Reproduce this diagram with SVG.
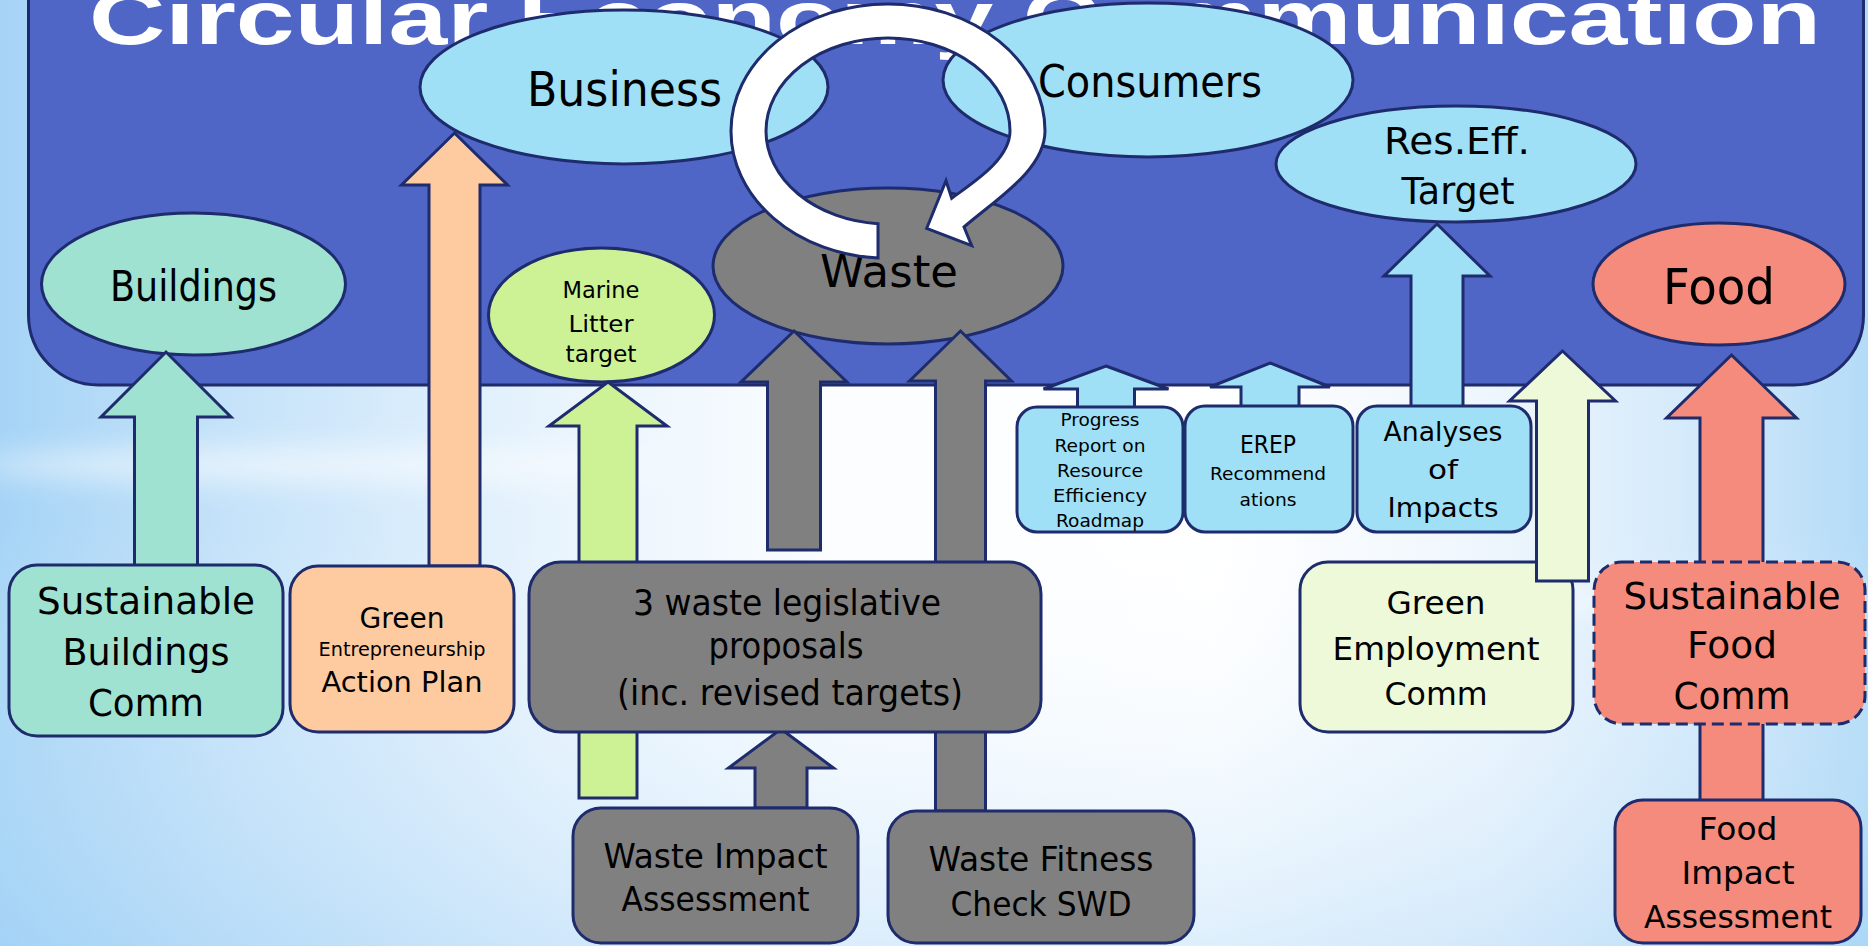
<svg xmlns="http://www.w3.org/2000/svg" width="1868" height="946" viewBox="0 0 1868 946">
  <defs>
    <linearGradient id="sky" x1="0" y1="0" x2="1" y2="0">
      <stop offset="0" stop-color="#a6d4f6"/>
      <stop offset="0.12" stop-color="#c4e2f9"/>
      <stop offset="0.3" stop-color="#e9f4fd"/>
      <stop offset="0.45" stop-color="#fbfdff"/>
      <stop offset="0.65" stop-color="#ffffff"/>
      <stop offset="0.8" stop-color="#eef6fd"/>
      <stop offset="0.92" stop-color="#d0e8fa"/>
      <stop offset="1" stop-color="#b3dbf7"/>
    </linearGradient>
    <linearGradient id="skyV" x1="0" y1="0" x2="0" y2="1">
      <stop offset="0.55" stop-color="#ffffff" stop-opacity="0"/>
      <stop offset="1" stop-color="#9fd0f6" stop-opacity="0.35"/>
    </linearGradient>
    <filter id="soft" x="-20%" y="-200%" width="140%" height="500%">
      <feGaussianBlur stdDeviation="14"/>
    </filter>
    <style>
      .ln { stroke: #1e2b6c; stroke-width: 3; stroke-linejoin: miter; }
      .t { font-family: "DejaVu Sans", "Noto Sans", sans-serif; fill: #000; text-anchor: middle; }
      .sky { fill: #9fe0f6; }
      .teal { fill: #9fe2d1; }
      .peach { fill: #fecba1; }
      .lime { fill: #ccf295; }
      .grey { fill: #808080; }
      .salmon { fill: #f58b7c; }
      .pale { fill: #edf9d9; }
      .white { fill: #ffffff; }
    </style>
  </defs>

  <!-- backdrop -->
  <rect width="1868" height="946" fill="url(#sky)"/>
  <rect width="1868" height="946" fill="url(#skyV)"/>
  <ellipse cx="330" cy="465" rx="360" ry="18" fill="#ffffff" opacity="0.55" filter="url(#soft)"/>
  <ellipse cx="1700" cy="600" rx="220" ry="14" fill="#ffffff" opacity="0.45" filter="url(#soft)"/>

  <!-- title panel -->
  <g id="panel">
    <rect x="28.5" y="-100" width="1835" height="485" rx="70" fill="#4f66c7" class="ln"/>
    <text x="89" y="44" font-family="'Liberation Sans', Arial, sans-serif" font-weight="bold" font-size="76" fill="#ffffff" textLength="1732" lengthAdjust="spacingAndGlyphs">Circular Economy Communication</text>
  </g>

  <!-- policy areas -->
  <g id="business">
    <ellipse cx="624" cy="87" rx="204" ry="77" class="sky ln"/>
    <text class="t" x="624.5" y="106" font-size="48" textLength="195" lengthAdjust="spacingAndGlyphs">Business</text>
  </g>
  <g id="consumers">
    <ellipse cx="1148" cy="80" rx="205" ry="77" class="sky ln"/>
    <text class="t" x="1150" y="97" font-size="45" textLength="224" lengthAdjust="spacingAndGlyphs">Consumers</text>
  </g>
  <g id="res-eff-target">
    <ellipse cx="1456" cy="164" rx="180" ry="58" class="sky ln"/>
    <text class="t" x="1457" y="154" font-size="38" textLength="146" lengthAdjust="spacingAndGlyphs">Res.Eff.</text>
    <text class="t" x="1458" y="204" font-size="38" textLength="113" lengthAdjust="spacingAndGlyphs">Target</text>
  </g>
  <g id="buildings">
    <ellipse cx="193.5" cy="284" rx="152" ry="71" class="teal ln"/>
    <text class="t" x="193.5" y="301" font-size="43" textLength="167" lengthAdjust="spacingAndGlyphs">Buildings</text>
  </g>
  <g id="marine-litter">
    <ellipse cx="601.5" cy="315" rx="113" ry="67" class="lime ln"/>
    <text class="t" x="601" y="297.5" font-size="23" textLength="77" lengthAdjust="spacingAndGlyphs">Marine</text>
    <text class="t" x="601" y="332" font-size="23" textLength="65" lengthAdjust="spacingAndGlyphs">Litter</text>
    <text class="t" x="601" y="362" font-size="23" textLength="71" lengthAdjust="spacingAndGlyphs">target</text>
  </g>
  <g id="waste">
    <ellipse cx="888" cy="266" rx="175" ry="78" class="grey ln"/>
    <text class="t" x="889" y="287" font-size="44" textLength="138" lengthAdjust="spacingAndGlyphs">Waste</text>
  </g>
  <g id="food">
    <ellipse cx="1719" cy="284" rx="126" ry="61" class="salmon ln"/>
    <text class="t" x="1719" y="304" font-size="50" textLength="112" lengthAdjust="spacingAndGlyphs">Food</text>
  </g>

  <!-- sits beneath the arrow that enters it -->
  <g id="green-employment">
    <rect x="1300" y="562" width="273" height="170" rx="28" class="pale ln"/>
    <text class="t" x="1436" y="614" font-size="32" textLength="99" lengthAdjust="spacingAndGlyphs">Green</text>
    <text class="t" x="1436" y="660" font-size="32" textLength="207" lengthAdjust="spacingAndGlyphs">Employment</text>
    <text class="t" x="1436" y="705" font-size="32" textLength="103" lengthAdjust="spacingAndGlyphs">Comm</text>
  </g>

  <!-- block arrows and the cycle arrow -->
  <g id="connectors">
    <polygon class="teal ln" points="166,352 231,417 197.5,417 197.5,566 134.5,566 134.5,417 101,417"/>
    <polygon class="peach ln" points="454.5,133 507.5,185 480,185 480,566 429,566 429,185 401.5,185"/>
    <polygon class="lime ln" points="608,382 667,426 637,426 637,798 579,798 579,426 549,426"/>
    <polygon class="grey ln" points="794,331 847,382 820.5,382 820.5,550 767.5,550 767.5,382 741,382"/>
    <polygon class="grey ln" points="960.5,331 1011.5,381 985.5,381 985.5,811 935.5,811 935.5,381 909.5,381"/>
    <polygon class="grey ln" points="781,729 833.5,768 807,768 807,808 755,808 755,768 728.5,768"/>
    <polygon class="sky ln" points="1106,366 1168.5,389 1134.5,389 1134.5,408 1077.5,408 1077.5,389 1043.5,389"/>
    <polygon class="sky ln" points="1270,363 1330,387 1299,387 1299,407 1241,407 1241,387 1210,387"/>
    <polygon class="sky ln" points="1437,224 1490,276 1463,276 1463,407 1411,407 1411,276 1384,276"/>
    <polygon class="pale ln" points="1562.5,351 1615.5,401 1588.5,401 1588.5,581 1536.5,581 1536.5,401 1509.5,401"/>
    <polygon class="salmon ln" points="1731.5,355 1796.5,418 1763,418 1763,801 1700,801 1700,418 1666.5,418"/>
    <path class="white ln" d="M 878 258 A 157 127 0 0 1 731 131 A 157 127 0 0 1 888 4 A 157 127 0 0 1 1045 131 C 1045 170 995 200 964 227 L 971.7 245.7 L 926.7 228.3 L 946 180.7 L 951.7 198.3 C 972 183 1010 160 1010 131 A 122 93 0 0 0 888 38 A 122 93 0 0 0 766 131 A 122 93 0 0 0 878 223.7 Z"/>
  </g>

  <!-- initiatives -->
  <g id="sustainable-buildings">
    <rect x="9" y="565" width="274" height="171" rx="28" class="teal ln"/>
    <text class="t" x="146" y="614" font-size="38" textLength="218" lengthAdjust="spacingAndGlyphs">Sustainable</text>
    <text class="t" x="146" y="665" font-size="38" textLength="167" lengthAdjust="spacingAndGlyphs">Buildings</text>
    <text class="t" x="146" y="716" font-size="38" textLength="116" lengthAdjust="spacingAndGlyphs">Comm</text>
  </g>
  <g id="green-entrepreneurship">
    <rect x="290" y="566" width="224" height="166" rx="28" class="peach ln"/>
    <text class="t" x="402" y="628" font-size="28" textLength="85" lengthAdjust="spacingAndGlyphs">Green</text>
    <text class="t" x="402" y="656" font-size="19" textLength="167" lengthAdjust="spacingAndGlyphs">Entrepreneurship</text>
    <text class="t" x="402" y="692" font-size="28" textLength="161" lengthAdjust="spacingAndGlyphs">Action Plan</text>
  </g>
  <g id="waste-proposals">
    <rect x="529" y="562" width="512" height="170" rx="32" class="grey ln"/>
    <text class="t" x="787" y="615" font-size="35" textLength="308" lengthAdjust="spacingAndGlyphs">3 waste legislative</text>
    <text class="t" x="786" y="658" font-size="35" textLength="155" lengthAdjust="spacingAndGlyphs">proposals</text>
    <text class="t" x="790" y="705" font-size="35" textLength="346" lengthAdjust="spacingAndGlyphs">(inc. revised targets)</text>
  </g>
  <g id="waste-impact-assessment">
    <rect x="573" y="808" width="285" height="135" rx="28" class="grey ln"/>
    <text class="t" x="715.5" y="868" font-size="33" textLength="224" lengthAdjust="spacingAndGlyphs">Waste Impact</text>
    <text class="t" x="715.5" y="911" font-size="33" textLength="188" lengthAdjust="spacingAndGlyphs">Assessment</text>
  </g>
  <g id="waste-fitness-check">
    <rect x="888" y="811" width="306" height="132" rx="28" class="grey ln"/>
    <text class="t" x="1041" y="871" font-size="33" textLength="225" lengthAdjust="spacingAndGlyphs">Waste Fitness</text>
    <text class="t" x="1041" y="916" font-size="33" textLength="181" lengthAdjust="spacingAndGlyphs">Check SWD</text>
  </g>
  <g id="progress-report">
    <rect x="1017" y="407" width="166" height="125" rx="20" class="sky ln"/>
    <text class="t" x="1100" y="426" font-size="18.5" textLength="79" lengthAdjust="spacingAndGlyphs">Progress</text>
    <text class="t" x="1100" y="452" font-size="18.5" textLength="91" lengthAdjust="spacingAndGlyphs">Report on</text>
    <text class="t" x="1100" y="477" font-size="18.5" textLength="86" lengthAdjust="spacingAndGlyphs">Resource</text>
    <text class="t" x="1100" y="502" font-size="18.5" textLength="94" lengthAdjust="spacingAndGlyphs">Efficiency</text>
    <text class="t" x="1100" y="527" font-size="18.5" textLength="88" lengthAdjust="spacingAndGlyphs">Roadmap</text>
  </g>
  <g id="erep">
    <rect x="1185" y="406" width="168" height="126" rx="20" class="sky ln"/>
    <text class="t" x="1268" y="453" font-size="24" textLength="56" lengthAdjust="spacingAndGlyphs">EREP</text>
    <text class="t" x="1268" y="480" font-size="18.5" textLength="116" lengthAdjust="spacingAndGlyphs">Recommend</text>
    <text class="t" x="1268" y="505.5" font-size="18.5" textLength="57" lengthAdjust="spacingAndGlyphs">ations</text>
  </g>
  <g id="analyses-of-impacts">
    <rect x="1357" y="406" width="174" height="126" rx="20" class="sky ln"/>
    <text class="t" x="1443" y="441" font-size="27" textLength="119" lengthAdjust="spacingAndGlyphs">Analyses</text>
    <text class="t" x="1443" y="479" font-size="27" textLength="30" lengthAdjust="spacingAndGlyphs">of</text>
    <text class="t" x="1443" y="517" font-size="27" textLength="111" lengthAdjust="spacingAndGlyphs">Impacts</text>
  </g>
  <g id="sustainable-food">
    <rect x="1594" y="562" width="271" height="162" rx="28" class="salmon ln" stroke-dasharray="12 6"/>
    <text class="t" x="1732" y="608.5" font-size="38" textLength="217" lengthAdjust="spacingAndGlyphs">Sustainable</text>
    <text class="t" x="1732" y="658" font-size="38" textLength="90" lengthAdjust="spacingAndGlyphs">Food</text>
    <text class="t" x="1732" y="709" font-size="38" textLength="117" lengthAdjust="spacingAndGlyphs">Comm</text>
  </g>
  <g id="food-impact-assessment">
    <rect x="1615" y="800" width="246" height="143" rx="28" class="salmon ln"/>
    <text class="t" x="1738" y="840" font-size="32" textLength="79" lengthAdjust="spacingAndGlyphs">Food</text>
    <text class="t" x="1738" y="884" font-size="32" textLength="113" lengthAdjust="spacingAndGlyphs">Impact</text>
    <text class="t" x="1738" y="928" font-size="32" textLength="188" lengthAdjust="spacingAndGlyphs">Assessment</text>
  </g>
</svg>
